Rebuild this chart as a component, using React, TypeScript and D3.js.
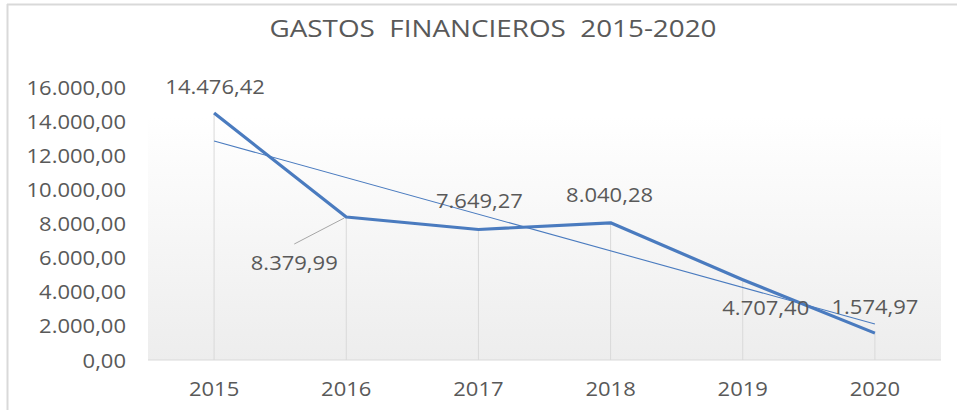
import React from "react";
import * as d3 from "d3";

// data
const years = ["2015", "2016", "2017", "2018", "2019", "2020"];
const gastos = [14476.42, 8379.99, 7649.27, 8040.28, 4707.4, 1574.97];
const yTicks = [0, 2000, 4000, 6000, 8000, 10000, 12000, 14000, 16000];
const title = "GASTOS  FINANCIEROS  2015-2020";

// label placement relative to its point (layout, not data)
const labelOffsets: [number, number][] = [
  [1, -27],
  [-52, 45],
  [1, -29],
  [-1, -28],
  [23, 28],
  [0, -27],
];

const W = 957;
const H = 410;
const margin = { top: 87, right: 16, bottom: 50, left: 148 };
const plotBgTop = 117;
const FONT = "'Open Sans', 'Noto Sans', sans-serif";
const GRAY = "#595959";
const BLUE = "#4a7bbf";

const fmt = (v: number) => {
  const [int, dec] = v.toFixed(2).split(".");
  return int.replace(/\B(?=(\d{3})+(?!\d))/g, ".") + "," + dec;
};

// the reference text is a little wider than Open Sans, stretch it horizontally
const Label: React.FC<{
  x: number;
  y: number;
  anchor: "start" | "middle" | "end";
  size: number;
  sx?: number;
  children: React.ReactNode;
}> = ({ x, y, anchor, size, sx = 1.1, children }) => (
  <text
    transform={`translate(${x},${y}) scale(${sx},1)`}
    textAnchor={anchor}
    dominantBaseline="central"
    fontSize={size}
    fill={GRAY}
    style={{ whiteSpace: "pre" }}
  >
    {children}
  </text>
);

const App: React.FC = () => {
  const x = d3
    .scaleBand()
    .domain(years)
    .range([margin.left, W - margin.right]);
  const y = d3
    .scaleLinear()
    .domain([0, 16000])
    .range([H - margin.bottom, margin.top]);
  const cx = (d: string) => x(d)! + x.bandwidth() / 2;

  const pts: [number, number][] = years.map((d, i) => [cx(d), y(gastos[i])]);
  const line = d3.line();

  // linear trendline (least squares on the series)
  const n = gastos.length;
  const mx = (n - 1) / 2;
  const my = d3.mean(gastos)!;
  const slope =
    d3.sum(gastos, (v, i) => (i - mx) * (v - my)) /
    d3.sum(gastos, (_v, i) => (i - mx) ** 2);
  const trend = (i: number) => my + slope * (i - mx);
  const trendPts: [number, number][] = [
    [cx(years[0]), y(trend(0))],
    [cx(years[n - 1]), y(trend(n - 1))],
  ];

  const y0 = y(0);

  return (
    <svg
      width={W}
      height={H}
      style={{ position: "absolute", left: 0, top: 0, background: "#fff" }}
      fontFamily={FONT}
    >
      <defs>
        <linearGradient id="plotBg" x1="0" y1="0" x2="0" y2="1">
          <stop offset="0" stopColor="#ffffff" />
          <stop offset="1" stopColor="#ededed" />
        </linearGradient>
      </defs>

      {/* outer frame */}
      <line x1={7} x2={W} y1={4.5} y2={4.5} stroke="#d9d9d9" strokeWidth={2} />
      <line x1={7.5} x2={7.5} y1={4} y2={H} stroke="#d9d9d9" strokeWidth={2} />

      <Label x={493} y={28} anchor="middle" size={24} sx={1.16}>
        {title}
      </Label>

      <rect
        x={margin.left}
        y={plotBgTop}
        width={W - margin.left - margin.right}
        height={y0 - plotBgTop}
        fill="url(#plotBg)"
      />

      {/* y tick labels */}
      {yTicks.map((t) => (
        <Label key={t} x={126} y={y(t)} anchor="end" size={20}>
          {fmt(t)}
        </Label>
      ))}

      {/* drop lines */}
      {pts.map(([px, py], i) => (
        <line
          key={i}
          x1={px}
          x2={px}
          y1={py}
          y2={y0}
          stroke="#d9d9d9"
          strokeWidth={1}
        />
      ))}

      {/* x axis */}
      <line
        x1={margin.left}
        x2={W - margin.right}
        y1={y0}
        y2={y0}
        stroke="#d9d9d9"
        strokeWidth={1}
      />
      {years.map((d) => (
        <Label key={d} x={cx(d)} y={y0 + 28} anchor="middle" size={20}>
          {d}
        </Label>
      ))}

      <path d={line(pts)!} fill="none" stroke={BLUE} strokeWidth={3.2} strokeLinejoin="round" />
      <path d={line(trendPts)!} fill="none" stroke={BLUE} strokeWidth={1.1} />

      {/* leader line for 2016 label */}
      <line
        x1={pts[1][0] - 2}
        y1={pts[1][1] + 1}
        x2={pts[1][0] + labelOffsets[1][0]}
        y2={pts[1][1] + labelOffsets[1][1] - 18}
        stroke="#a6a6a6"
        strokeWidth={1}
      />

      {/* data labels */}
      {pts.map(([px, py], i) => (
        <Label
          key={i}
          x={px + labelOffsets[i][0]}
          y={py + labelOffsets[i][1]}
          anchor="middle"
          size={20}
        >
          {fmt(gastos[i])}
        </Label>
      ))}
    </svg>
  );
};

export default App;
